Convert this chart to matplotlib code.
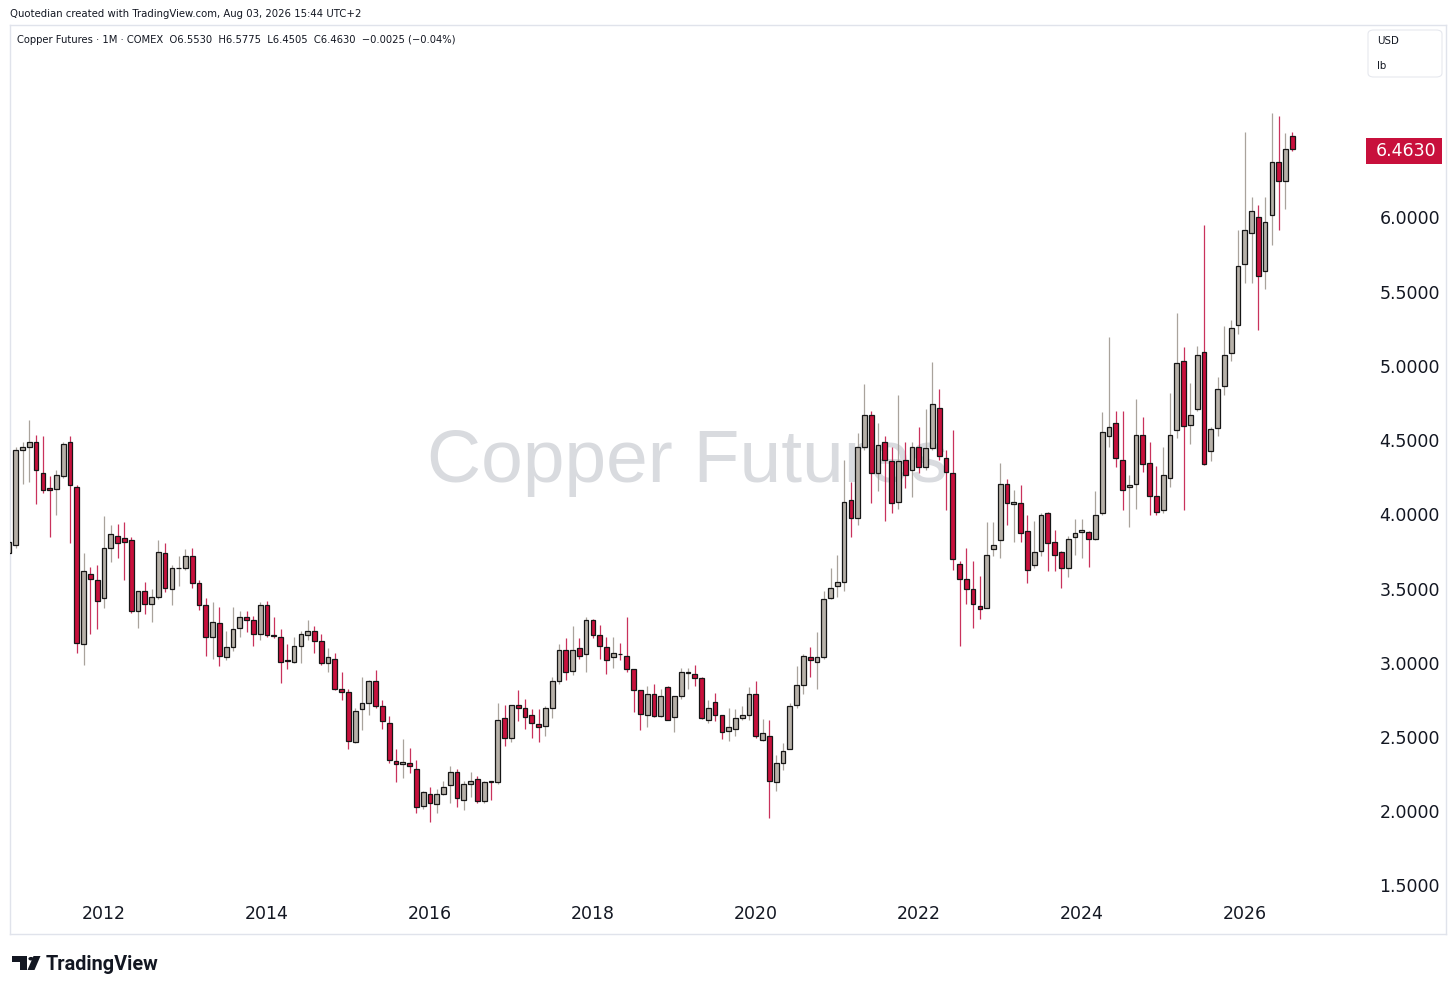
import matplotlib
matplotlib.use("Agg")
import matplotlib.pyplot as plt
import matplotlib.transforms as mtransforms
from matplotlib.patches import Rectangle, FancyBboxPatch, Polygon, Circle
import numpy as np
import pandas as pd

# monthly candles, Nov 2010 .. Aug 2026
months = pd.period_range("2010-11", "2026-08", freq="M")

opens = [
    3.74, 3.80,
    4.44, 4.455, 4.49, 4.28, 4.18, 4.175, 4.26, 4.49, 4.19, 3.13, 3.60, 3.56,
    3.44, 3.78, 3.86, 3.845, 3.83, 3.35, 3.49, 3.40, 3.45, 3.74, 3.50, 3.64,
    3.645, 3.72, 3.54, 3.39, 3.18, 3.27, 3.04, 3.11, 3.24, 3.31, 3.29, 3.20,
    3.39, 3.19, 3.18, 3.02, 3.01, 3.12, 3.19, 3.22, 3.15, 3.00, 3.03, 2.83,
    2.81, 2.47, 2.69, 2.73, 2.88, 2.71, 2.60, 2.345, 2.325, 2.33, 2.29, 2.04,
    2.12, 2.055, 2.12, 2.18, 2.27, 2.08, 2.19, 2.22, 2.07, 2.205, 2.20, 2.63,
    2.50, 2.72, 2.70, 2.65, 2.59, 2.58, 2.70, 2.88, 3.09, 2.95, 3.10, 3.06,
    3.29, 3.19, 3.11, 3.04, 3.065, 3.05, 2.96, 2.82, 2.65, 2.79, 2.645, 2.84,
    2.64, 2.78, 2.935, 2.93, 2.90, 2.62, 2.74, 2.65, 2.545, 2.56, 2.63, 2.65,
    2.79, 2.485, 2.51, 2.20, 2.33, 2.42, 2.72, 2.855, 3.04, 3.01, 3.04, 3.44,
    3.52, 3.55, 4.10, 3.98, 4.46, 4.67, 4.28, 4.49, 4.36, 4.09, 4.37, 4.30,
    4.455, 4.325, 4.45, 4.72, 4.38, 4.28, 3.67, 3.57, 3.50, 3.385, 3.37, 3.77,
    3.83, 4.21, 4.07, 4.08, 3.89, 3.66, 3.76, 4.01, 3.82, 3.75, 3.645, 3.85,
    3.886, 3.886, 3.835, 4.01, 4.53, 4.62, 4.37, 4.185, 4.21, 4.54, 4.35, 4.13,
    4.03, 4.25, 4.57, 5.04, 4.605, 4.71, 5.10, 4.43, 4.585, 4.87, 5.09, 5.28,
    5.69, 5.90, 6.01, 5.64, 6.02, 6.38, 6.25, 6.553,
]
highs = [
    3.84, 4.46,
    4.49, 4.64, 4.54, 4.53, 4.26, 4.30, 4.49, 4.53, 4.20, 3.74, 3.65, 3.66,
    3.99, 3.93, 3.94, 3.95, 3.85, 3.49, 3.55, 3.50, 3.83, 3.81, 3.66, 3.72,
    3.77, 3.78, 3.56, 3.44, 3.41, 3.38, 3.22, 3.38, 3.35, 3.35, 3.32, 3.41,
    3.42, 3.31, 3.23, 3.13, 3.18, 3.22, 3.29, 3.25, 3.20, 3.10, 3.07, 2.94,
    2.83, 2.70, 2.91, 2.89, 2.955, 2.75, 2.645, 2.42, 2.49, 2.43, 2.35, 2.14,
    2.17, 2.15, 2.21, 2.31, 2.29, 2.21, 2.27, 2.24, 2.21, 2.21, 2.73, 2.72,
    2.72, 2.82, 2.76, 2.69, 2.69, 2.71, 2.91, 3.13, 3.17, 3.25, 3.17, 3.31,
    3.30, 3.26, 3.18, 3.18, 3.14, 3.31, 2.965, 2.82, 2.85, 2.86, 2.83, 2.85,
    2.78, 2.97, 2.97, 2.99, 2.905, 2.75, 2.80, 2.655, 2.70, 2.69, 2.71, 2.84,
    2.88, 2.625, 2.62, 2.38, 2.46, 2.73, 2.98, 3.06, 3.11, 3.21, 3.49, 3.64,
    3.73, 4.37, 4.22, 4.55, 4.88, 4.70, 4.62, 4.53, 4.46, 4.81, 4.49, 4.49,
    4.59, 4.71, 5.03, 4.85, 4.44, 4.57, 3.69, 3.78, 3.69, 3.59, 3.955, 3.955,
    4.35, 4.24, 4.17, 4.20, 4.00, 3.96, 4.01, 4.02, 3.90, 3.76, 3.86, 3.97,
    3.97, 3.89, 4.16, 4.69, 5.20, 4.70, 4.70, 4.27, 4.78, 4.66, 4.49, 4.33,
    4.46, 4.82, 5.36, 5.13, 4.89, 5.14, 5.95, 4.59, 4.93, 5.27, 5.31, 5.92,
    6.58, 6.14, 6.09, 6.14, 6.71, 6.69, 6.57, 6.5775,
]
lows = [
    3.72, 3.78,
    4.21, 4.22, 4.07, 4.15, 3.85, 4.00, 4.25, 3.81, 3.07, 2.99, 3.20, 3.23,
    3.37, 3.68, 3.71, 3.56, 3.34, 3.24, 3.33, 3.28, 3.43, 3.48, 3.39, 3.52,
    3.63, 3.51, 3.36, 3.05, 3.03, 2.98, 3.02, 3.08, 3.18, 3.21, 3.12, 3.16,
    3.18, 3.17, 2.87, 2.96, 3.00, 3.00, 3.16, 3.07, 2.99, 2.94, 2.82, 2.75,
    2.42, 2.46, 2.55, 2.65, 2.70, 2.56, 2.33, 2.20, 2.23, 2.26, 1.99, 2.02,
    1.93, 1.99, 2.11, 2.06, 2.03, 2.01, 2.10, 2.06, 2.06, 2.08, 2.19, 2.44,
    2.47, 2.61, 2.56, 2.50, 2.47, 2.51, 2.63, 2.86, 2.89, 2.92, 3.03, 2.94,
    3.17, 3.03, 2.93, 2.97, 3.02, 2.94, 2.67, 2.55, 2.57, 2.64, 2.64, 2.615,
    2.54, 2.76, 2.83, 2.85, 2.625, 2.60, 2.61, 2.49, 2.48, 2.51, 2.62, 2.62,
    2.50, 2.48, 1.96, 2.14, 2.28, 2.42, 2.70, 2.79, 2.91, 2.83, 3.03, 3.43,
    3.45, 3.49, 3.85, 3.93, 4.44, 4.08, 4.16, 3.96, 4.01, 4.04, 4.18, 4.12,
    4.28, 4.30, 4.44, 4.37, 4.03, 3.63, 3.12, 3.40, 3.24, 3.30, 3.37, 3.72,
    3.71, 3.93, 3.82, 3.82, 3.54, 3.64, 3.72, 3.62, 3.62, 3.51, 3.58, 3.73,
    3.71, 3.65, 3.83, 4.00, 4.46, 4.32, 4.03, 3.92, 4.04, 4.29, 4.00, 4.00,
    4.01, 4.19, 4.52, 4.03, 4.48, 4.70, 4.335, 4.36, 4.53, 4.81, 5.04, 5.22,
    5.56, 5.56, 5.245, 5.52, 5.82, 5.92, 6.06, 6.4505,
]
closes = [
    3.82, 4.44,
    4.46, 4.49, 4.30, 4.17, 4.165, 4.27, 4.475, 4.20, 3.14, 3.62, 3.57, 3.42,
    3.78, 3.87, 3.81, 3.82, 3.35, 3.49, 3.40, 3.45, 3.75, 3.51, 3.64, 3.645,
    3.72, 3.54, 3.39, 3.18, 3.28, 3.05, 3.11, 3.23, 3.31, 3.29, 3.20, 3.39,
    3.19, 3.185, 3.01, 3.015, 3.12, 3.20, 3.22, 3.15, 3.00, 3.04, 2.83, 2.81,
    2.48, 2.68, 2.73, 2.88, 2.71, 2.61, 2.35, 2.325, 2.335, 2.31, 2.03, 2.13,
    2.06, 2.12, 2.17, 2.27, 2.09, 2.19, 2.21, 2.07, 2.20, 2.20, 2.62, 2.50,
    2.72, 2.70, 2.64, 2.60, 2.57, 2.70, 2.88, 3.09, 2.94, 3.09, 3.05, 3.29,
    3.19, 3.12, 3.02, 3.07, 3.06, 2.96, 2.82, 2.66, 2.79, 2.645, 2.78, 2.62,
    2.78, 2.94, 2.94, 2.90, 2.63, 2.70, 2.65, 2.54, 2.57, 2.63, 2.65, 2.79,
    2.51, 2.53, 2.21, 2.33, 2.41, 2.715, 2.855, 3.05, 3.02, 3.04, 3.43, 3.51,
    3.55, 4.085, 3.98, 4.46, 4.67, 4.28, 4.47, 4.37, 4.08, 4.36, 4.27, 4.455,
    4.32, 4.45, 4.745, 4.40, 4.29, 3.70, 3.57, 3.50, 3.40, 3.365, 3.73, 3.80,
    4.21, 4.08, 4.085, 3.88, 3.63, 3.75, 4.00, 3.81, 3.73, 3.645, 3.84, 3.88,
    3.90, 3.835, 4.00, 4.56, 4.59, 4.38, 4.17, 4.20, 4.54, 4.34, 4.13, 4.02,
    4.27, 4.54, 5.025, 4.60, 4.67, 5.08, 4.345, 4.58, 4.85, 5.08, 5.26, 5.68,
    5.92, 6.05, 5.61, 5.975, 6.38, 6.25, 6.4655, 6.463,
]

price_ticks = [1.5, 2.0, 2.5, 3.0, 3.5, 4.0, 4.5, 5.0, 5.5, 6.0]
year_ticks = [2012, 2014, 2016, 2018, 2020, 2022, 2024, 2026]
last_price = 6.4630

header = "Quotedian created with TradingView.com, Aug 03, 2026 15:44 UTC+2"
legend = ("Copper Futures \u00b7 1M \u00b7 COMEX  O6.5530  H6.5775  "
          "L6.4505  C6.4630  \u22120.0025 (\u22120.04%)")

UP_BODY = "#b7b1a9"
UP_WICK = "#a9a39c"
DN_BODY = "#c8103c"
DN_WICK = "#c9325c"
TEXT = "#131722"
FRAME = "#e0e3eb"

W, H = 1456, 992
fig = plt.figure(figsize=(W / 100, H / 100), dpi=100)
fig.patch.set_facecolor("white")


def fx(px):
    return px / W


def fy(py):
    return 1 - py / H


# chart pane: pixel box 10..1446 x 25..934
ax = fig.add_axes([fx(10), fy(934), fx(1436), (934 - 25) / H])
for s in ax.spines.values():
    s.set_color(FRAME)
    s.set_linewidth(1)
ax.set_xticks([])
ax.set_yticks([])

o = np.array(opens)
h = np.array(highs)
l = np.array(lows)
c = np.array(closes)
x = np.arange(len(months))
up = c >= o

# wicks
ax.vlines(x[up], l[up], h[up], color=UP_WICK, linewidth=0.9, zorder=2)
ax.vlines(x[~up], l[~up], h[~up], color=DN_WICK, linewidth=0.9, zorder=2)

# bodies
bottom = np.minimum(o, c)
height = np.maximum(np.abs(c - o), 0.004)
ax.bar(x[up], height[up], bottom=bottom[up], width=0.7, color=UP_BODY,
       edgecolor="#161616", linewidth=0.9, zorder=3)
ax.bar(x[~up], height[~up], bottom=bottom[~up], width=0.7, color=DN_BODY,
       edgecolor="#161616", linewidth=0.9, zorder=3)

# month index of Jan 2012 sits at pixel 104, 6.79 px per month
jan12 = list(months).index(pd.Period("2012-01", freq="M"))
x0 = jan12 + (10 - 104) / 6.79
x1 = jan12 + (1446 - 104) / 6.79
ax.set_xlim(x0, x1)
ax.set_ylim(6 - (934 - 218) / 148.44, 6 + (218 - 25) / 148.44)

# watermark
ax.text(0.4720, 0.519, "Copper Futures", transform=ax.transAxes,
        fontsize=54, family="Liberation Sans", color="#d9dbdf",
        ha="center", va="center", zorder=0)

# price scale labels (inside the pane, right side)
ytrans = mtransforms.blended_transform_factory(ax.transAxes, ax.transData)
for p in price_ticks:
    ax.text((1440 - 10) / 1436, p - 1.5 / 148.44, f"{p:.4f}", transform=ytrans,
            ha="right", va="center", fontsize=12.5, color=TEXT,
            family="DejaVu Sans")

# last price tag
ax.add_patch(Rectangle(((1366 - 10) / 1436, last_price - 14.5 / 148.44),
                       76 / 1436, 26 / 148.44, transform=ytrans,
                       facecolor=DN_BODY, edgecolor="none", zorder=5,
                       clip_on=False))
ax.text((1436 - 10) / 1436, last_price - 1.5 / 148.44, f"{last_price:.4f}",
        transform=ytrans, ha="right", va="center", fontsize=12.5,
        color="white", family="DejaVu Sans", fontweight="medium", zorder=6)

# year labels along the bottom of the pane
xtrans = mtransforms.blended_transform_factory(ax.transData, ax.transAxes)
for yr in year_ticks:
    xi = list(months).index(pd.Period(f"{yr}-01", freq="M"))
    ax.text(xi, (934 - 914) / 909, str(yr), transform=xtrans,
            ha="center", va="center", fontsize=12.5, color=TEXT,
            family="DejaVu Sans")

# header texts
fig.text(fx(10), fy(14), header, fontsize=7.3, color=TEXT,
         family="DejaVu Sans", ha="left", va="center")
fig.text(fx(17), fy(40), legend, fontsize=7.2, color=TEXT,
         family="DejaVu Sans", ha="left", va="center")

# currency / unit box
fig.patches.append(FancyBboxPatch((fx(1368), fy(77)), fx(74), 47 / H,
                                  boxstyle="round,pad=0,rounding_size=0.004",
                                  transform=fig.transFigure, facecolor="white",
                                  edgecolor="#e6e8ee", linewidth=0.8))
fig.text(fx(1377), fy(41), "USD", fontsize=7.4, color=TEXT,
         family="DejaVu Sans", ha="left", va="center")
fig.text(fx(1377), fy(66), "lb", fontsize=7.4, color=TEXT,
         family="DejaVu Sans", ha="left", va="center")

# TradingView logo
fig.patches.append(Polygon([(fx(11.7), fy(956)), (fx(26.7), fy(956)),
                            (fx(26.7), fy(970)), (fx(19.5), fy(970)),
                            (fx(19.5), fy(961.5)), (fx(11.7), fy(961.5))],
                           closed=True, transform=fig.transFigure,
                           facecolor="#131722", edgecolor="none"))
fig.patches.append(Circle((fx(31), fy(958.7)), 2.6 / W,
                          transform=fig.transFigure, facecolor="#131722",
                          edgecolor="none"))
fig.patches.append(Polygon([(fx(27.5), fy(970)), (fx(34.5), fy(970)),
                            (fx(40.5), fy(956)), (fx(33.5), fy(956))],
                           closed=True, transform=fig.transFigure,
                           facecolor="#131722", edgecolor="none"))
fig.text(fx(46), fy(964), "TradingView", fontsize=14.3, fontweight="bold",
         family="Roboto", color="#131722", ha="left", va="center")

fig.savefig("out.png", dpi=100, facecolor="white")
